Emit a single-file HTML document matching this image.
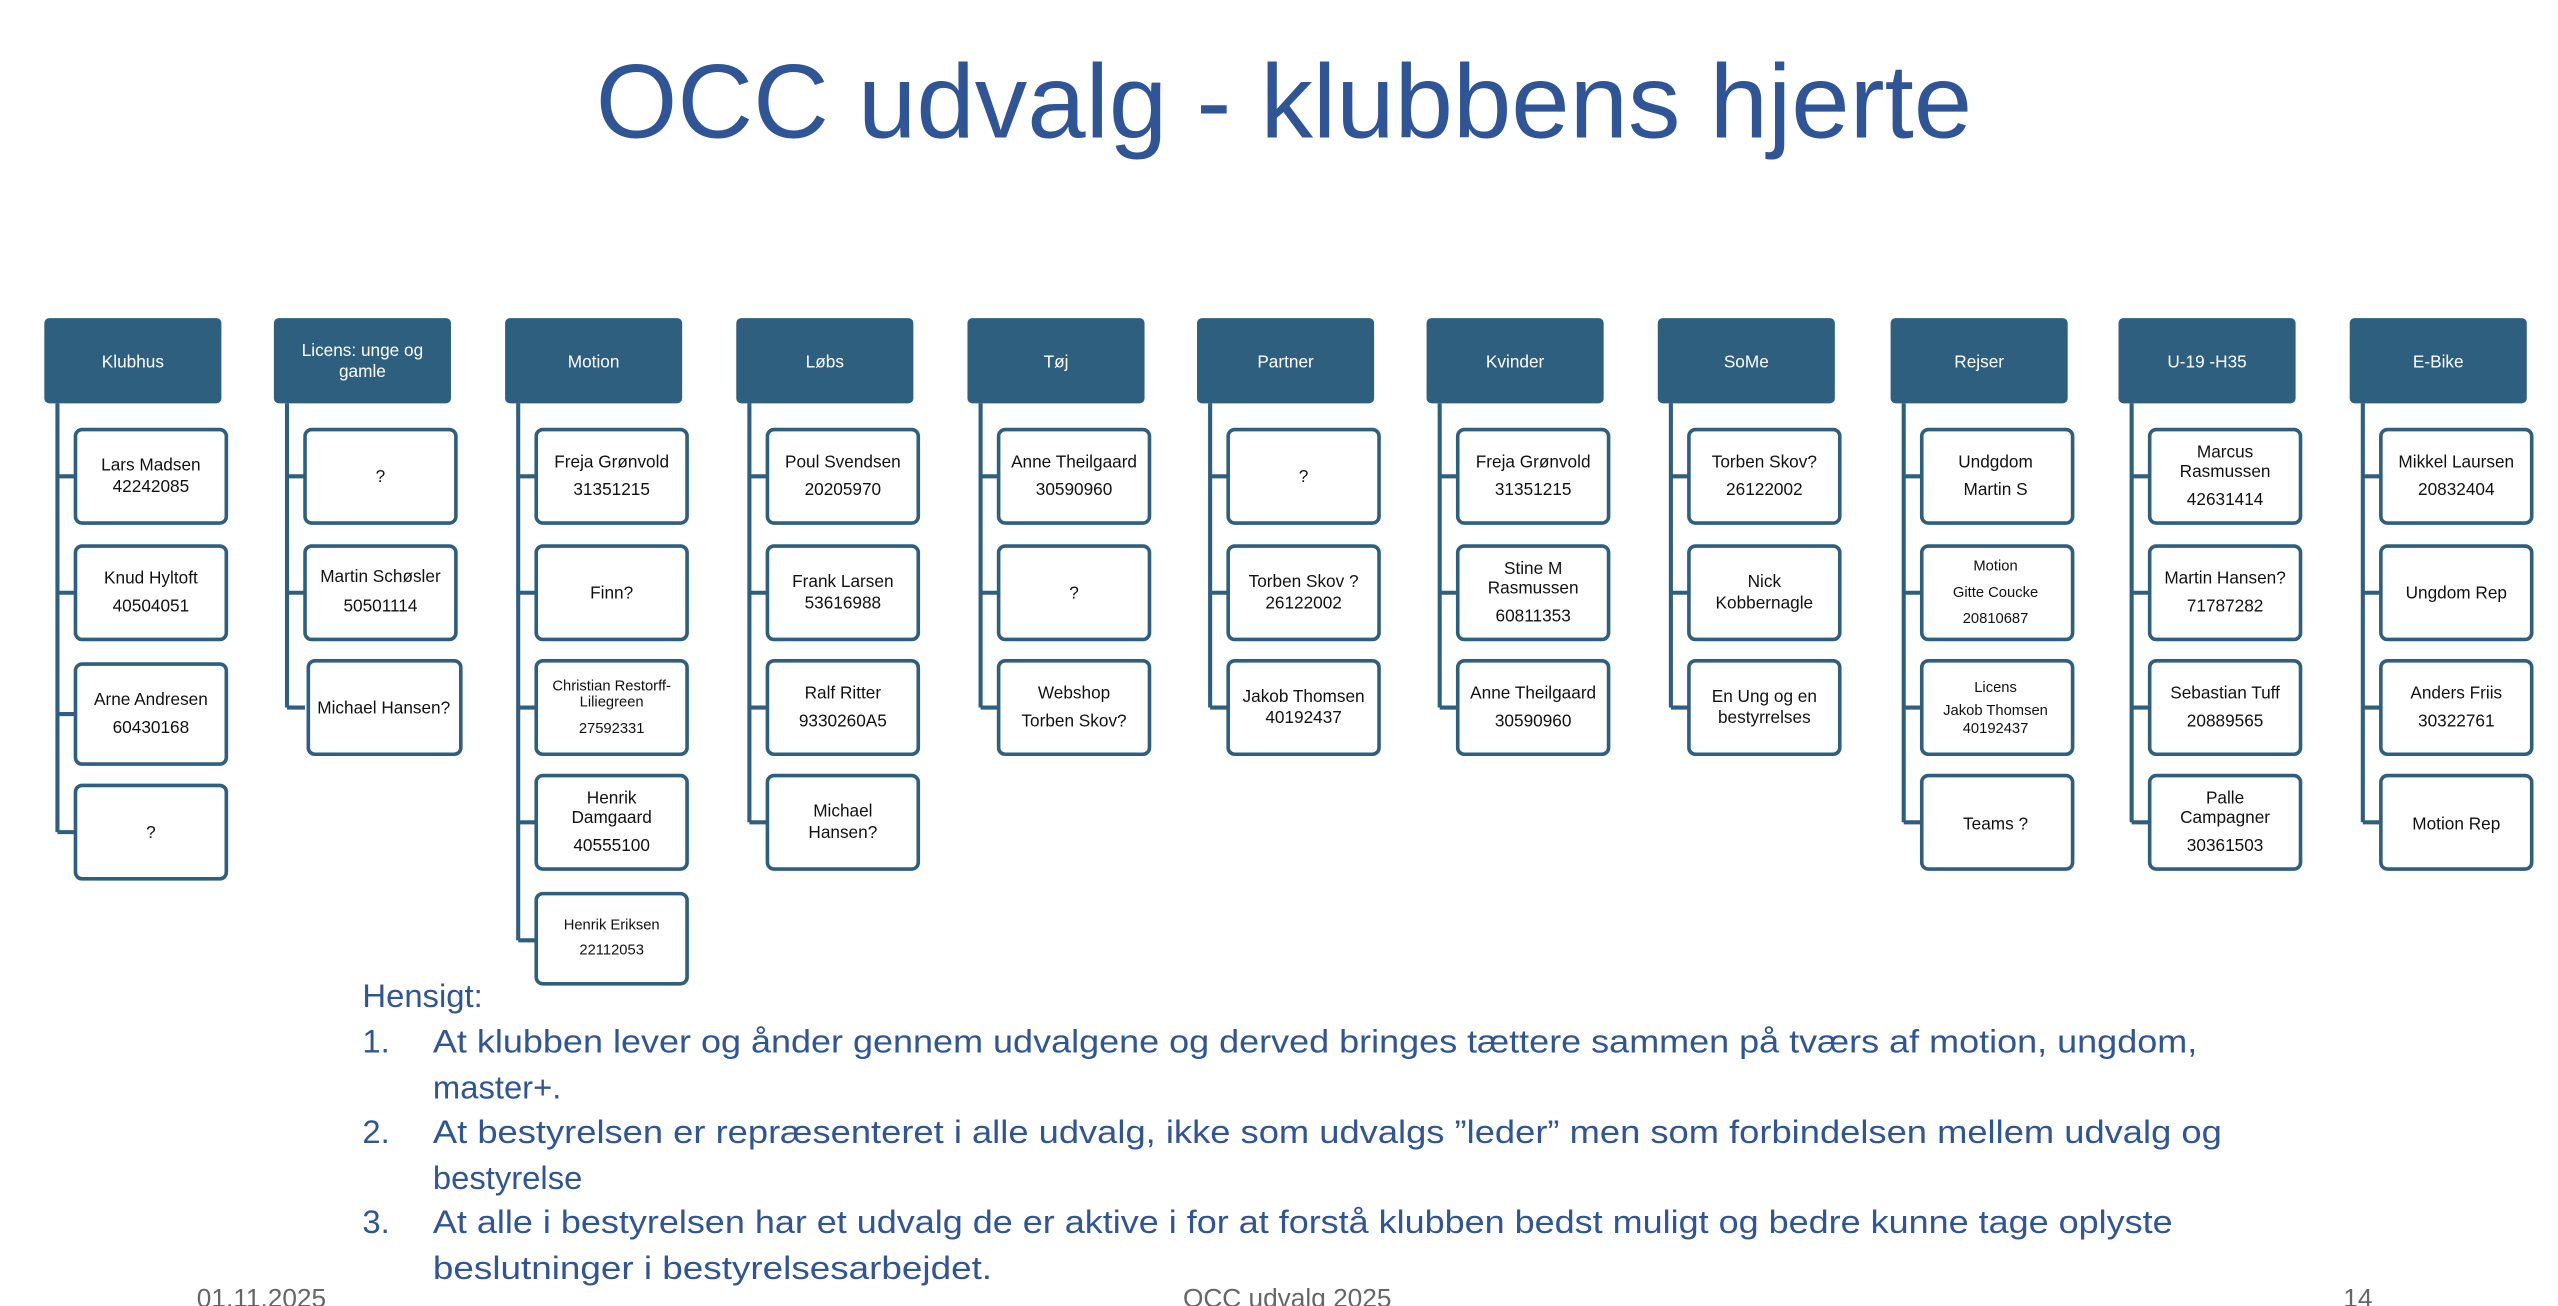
<!DOCTYPE html>
<html><head><meta charset="utf-8"><style>
html,body{margin:0;padding:0;background:#fff;}
svg{display:block;}
text{font-family:"Liberation Sans",Arial,sans-serif;}
.h{fill:#2E5F7F;}
.b{fill:#fff;stroke:#2E5F7F;stroke-width:2.2;}
.l{stroke:#2E5F7F;stroke-width:2.5;fill:none;}
.ht{fill:#fff;font-size:10.5px;text-anchor:middle;}
.t{fill:#111;font-size:10.5px;text-anchor:middle;}
.s{fill:#111;font-size:9px;text-anchor:middle;}
.p{fill:#2F5597;font-size:20px;}
.f{fill:#666;font-size:16px;}
</style></head><body>
<svg width="2558" height="1306" viewBox="0 0 1560 796.5" xmlns="http://www.w3.org/2000/svg">
<text x="783" y="84" text-anchor="middle" style="fill:#2F5597;font-size:64px;">OCC udvalg - klubbens hjerte</text>

<!-- headers -->
<g>
<rect class="h" x="27" y="194" width="108" height="52" rx="3"/><text class="ht" x="81" y="224">Klubhus</text>
<rect class="h" x="167" y="194" width="108" height="52" rx="3"/><text class="ht" x="221" y="217">Licens: unge og</text><text class="ht" x="221" y="230">gamle</text>
<rect class="h" x="308" y="194" width="108" height="52" rx="3"/><text class="ht" x="362" y="224">Motion</text>
<rect class="h" x="449" y="194" width="108" height="52" rx="3"/><text class="ht" x="503" y="224">Løbs</text>
<rect class="h" x="590" y="194" width="108" height="52" rx="3"/><text class="ht" x="644" y="224">Tøj</text>
<rect class="h" x="730" y="194" width="108" height="52" rx="3"/><text class="ht" x="784" y="224">Partner</text>
<rect class="h" x="870" y="194" width="108" height="52" rx="3"/><text class="ht" x="924" y="224">Kvinder</text>
<rect class="h" x="1011" y="194" width="108" height="52" rx="3"/><text class="ht" x="1065" y="224">SoMe</text>
<rect class="h" x="1153" y="194" width="108" height="52" rx="3"/><text class="ht" x="1207" y="224">Rejser</text>
<rect class="h" x="1292" y="194" width="108" height="52" rx="3"/><text class="ht" x="1346" y="224">U-19 -H35</text>
<rect class="h" x="1433" y="194" width="108" height="52" rx="3"/><text class="ht" x="1487" y="224">E-Bike</text>
</g>

<!-- connectors -->
<g class="l">
<path d="M35 246V507.5M35 290.5H46M35 361.5H46M35 435.5H46M35 507.5H46"/>
<path d="M175 246V431.5M175 290.5H186M175 361.5H186M175 431.5H186"/>
<path d="M316 246V573.5M316 290.5H327M316 361.5H327M316 431.5H327M316 501.5H327M316 573.5H327"/>
<path d="M457 246V501.5M457 290.5H468M457 361.5H468M457 431.5H468M457 501.5H468"/>
<path d="M598 246V431.5M598 290.5H609M598 361.5H609M598 431.5H609"/>
<path d="M738 246V431.5M738 290.5H749M738 361.5H749M738 431.5H749"/>
<path d="M878 246V431.5M878 290.5H889M878 361.5H889M878 431.5H889"/>
<path d="M1019 246V431.5M1019 290.5H1030M1019 361.5H1030M1019 431.5H1030"/>
<path d="M1161 246V501.5M1161 290.5H1172M1161 361.5H1172M1161 431.5H1172M1161 501.5H1172"/>
<path d="M1300 246V501.5M1300 290.5H1311M1300 361.5H1311M1300 431.5H1311M1300 501.5H1311"/>
<path d="M1441 246V501.5M1441 290.5H1452M1441 361.5H1452M1441 431.5H1452M1441 501.5H1452"/>
</g>

<!-- Klubhus -->
<rect class="b" x="46" y="262" width="92" height="57" rx="4"/><text class="t" x="92" y="287">Lars Madsen</text><text class="t" x="92" y="300">42242085</text>
<rect class="b" x="46" y="333" width="92" height="57" rx="4"/><text class="t" x="92" y="356">Knud Hyltoft</text><text class="t" x="92" y="373">40504051</text>
<rect class="b" x="46" y="405" width="92" height="61" rx="4"/><text class="t" x="92" y="430">Arne Andresen</text><text class="t" x="92" y="447">60430168</text>
<rect class="b" x="46" y="479" width="92" height="57" rx="4"/><text class="t" x="92" y="511">?</text>

<!-- Licens -->
<rect class="b" x="186" y="262" width="92" height="57" rx="4"/><text class="t" x="232" y="294">?</text>
<rect class="b" x="186" y="333" width="92" height="57" rx="4"/><text class="t" x="232" y="355">Martin Schøsler</text><text class="t" x="232" y="373">50501114</text>
<rect class="b" x="188" y="403" width="93" height="57" rx="4"/><text class="t" x="234" y="435">Michael Hansen?</text>

<!-- Motion -->
<rect class="b" x="327" y="262" width="92" height="57" rx="4"/><text class="t" x="373" y="285">Freja Grønvold</text><text class="t" x="373" y="302">31351215</text>
<rect class="b" x="327" y="333" width="92" height="57" rx="4"/><text class="t" x="373" y="365">Finn?</text>
<rect class="b" x="327" y="403" width="92" height="57" rx="4"/><text class="s" x="373" y="421">Christian Restorff-</text><text class="s" x="373" y="431">Liliegreen</text><text class="s" x="373" y="447">27592331</text>
<rect class="b" x="327" y="473" width="92" height="57" rx="4"/><text class="t" x="373" y="490">Henrik</text><text class="t" x="373" y="502">Damgaard</text><text class="t" x="373" y="519">40555100</text>
<rect class="b" x="327" y="545" width="92" height="55" rx="4"/><text class="s" x="373" y="567">Henrik Eriksen</text><text class="s" x="373" y="582">22112053</text>

<!-- Løbs -->
<rect class="b" x="468" y="262" width="92" height="57" rx="4"/><text class="t" x="514" y="285">Poul Svendsen</text><text class="t" x="514" y="302">20205970</text>
<rect class="b" x="468" y="333" width="92" height="57" rx="4"/><text class="t" x="514" y="358">Frank Larsen</text><text class="t" x="514" y="371">53616988</text>
<rect class="b" x="468" y="403" width="92" height="57" rx="4"/><text class="t" x="514" y="426">Ralf Ritter</text><text class="t" x="514" y="443">9330260A5</text>
<rect class="b" x="468" y="473" width="92" height="57" rx="4"/><text class="t" x="514" y="498">Michael</text><text class="t" x="514" y="511">Hansen?</text>

<!-- Tøj -->
<rect class="b" x="609" y="262" width="92" height="57" rx="4"/><text class="t" x="655" y="285">Anne Theilgaard</text><text class="t" x="655" y="302">30590960</text>
<rect class="b" x="609" y="333" width="92" height="57" rx="4"/><text class="t" x="655" y="365">?</text>
<rect class="b" x="609" y="403" width="92" height="57" rx="4"/><text class="t" x="655" y="426">Webshop</text><text class="t" x="655" y="443">Torben Skov?</text>

<!-- Partner -->
<rect class="b" x="749" y="262" width="92" height="57" rx="4"/><text class="t" x="795" y="294">?</text>
<rect class="b" x="749" y="333" width="92" height="57" rx="4"/><text class="t" x="795" y="358">Torben Skov ?</text><text class="t" x="795" y="371">26122002</text>
<rect class="b" x="749" y="403" width="92" height="57" rx="4"/><text class="t" x="795" y="428">Jakob Thomsen</text><text class="t" x="795" y="441">40192437</text>

<!-- Kvinder -->
<rect class="b" x="889" y="262" width="92" height="57" rx="4"/><text class="t" x="935" y="285">Freja Grønvold</text><text class="t" x="935" y="302">31351215</text>
<rect class="b" x="889" y="333" width="92" height="57" rx="4"/><text class="t" x="935" y="350">Stine M</text><text class="t" x="935" y="362">Rasmussen</text><text class="t" x="935" y="379">60811353</text>
<rect class="b" x="889" y="403" width="92" height="57" rx="4"/><text class="t" x="935" y="426">Anne Theilgaard</text><text class="t" x="935" y="443">30590960</text>

<!-- SoMe -->
<rect class="b" x="1030" y="262" width="92" height="57" rx="4"/><text class="t" x="1076" y="285">Torben Skov?</text><text class="t" x="1076" y="302">26122002</text>
<rect class="b" x="1030" y="333" width="92" height="57" rx="4"/><text class="t" x="1076" y="358">Nick</text><text class="t" x="1076" y="371">Kobbernagle</text>
<rect class="b" x="1030" y="403" width="92" height="57" rx="4"/><text class="t" x="1076" y="428">En Ung og en</text><text class="t" x="1076" y="441">bestyrrelses</text>

<!-- Rejser -->
<rect class="b" x="1172" y="262" width="92" height="57" rx="4"/><text class="t" x="1217" y="285">Undgdom</text><text class="t" x="1217" y="302">Martin S</text>
<rect class="b" x="1172" y="333" width="92" height="57" rx="4"/><text class="s" x="1217" y="348">Motion</text><text class="s" x="1217" y="364">Gitte Coucke</text><text class="s" x="1217" y="380">20810687</text>
<rect class="b" x="1172" y="403" width="92" height="57" rx="4"/><text class="s" x="1217" y="422">Licens</text><text class="s" x="1217" y="436">Jakob Thomsen</text><text class="s" x="1217" y="447">40192437</text>
<rect class="b" x="1172" y="473" width="92" height="57" rx="4"/><text class="t" x="1217" y="506">Teams ?</text>

<!-- U-19 -->
<rect class="b" x="1311" y="262" width="92" height="57" rx="4"/><text class="t" x="1357" y="279">Marcus</text><text class="t" x="1357" y="291">Rasmussen</text><text class="t" x="1357" y="308">42631414</text>
<rect class="b" x="1311" y="333" width="92" height="57" rx="4"/><text class="t" x="1357" y="356">Martin  Hansen?</text><text class="t" x="1357" y="373">71787282</text>
<rect class="b" x="1311" y="403" width="92" height="57" rx="4"/><text class="t" x="1357" y="426">Sebastian Tuff</text><text class="t" x="1357" y="443">20889565</text>
<rect class="b" x="1311" y="473" width="92" height="57" rx="4"/><text class="t" x="1357" y="490">Palle</text><text class="t" x="1357" y="502">Campagner</text><text class="t" x="1357" y="519">30361503</text>

<!-- E-Bike -->
<rect class="b" x="1452" y="262" width="92" height="57" rx="4"/><text class="t" x="1498" y="285">Mikkel Laursen</text><text class="t" x="1498" y="302">20832404</text>
<rect class="b" x="1452" y="333" width="92" height="57" rx="4"/><text class="t" x="1498" y="365">Ungdom Rep</text>
<rect class="b" x="1452" y="403" width="92" height="57" rx="4"/><text class="t" x="1498" y="426">Anders Friis</text><text class="t" x="1498" y="443">30322761</text>
<rect class="b" x="1452" y="473" width="92" height="57" rx="4"/><text class="t" x="1498" y="506">Motion Rep</text>

<!-- body text -->
<text class="p" x="221" y="614">Hensigt:</text>
<text class="p" x="221" y="642">1.</text><text class="p" x="264" y="642" textLength="1076" lengthAdjust="spacingAndGlyphs">At klubben lever og ånder gennem udvalgene og derved bringes tættere sammen på tværs af motion, ungdom,</text>
<text class="p" x="264" y="670">master+.</text>
<text class="p" x="221" y="697">2.</text><text class="p" x="264" y="697" textLength="1091" lengthAdjust="spacingAndGlyphs">At bestyrelsen er repræsenteret i alle udvalg, ikke som udvalgs ”leder” men som forbindelsen mellem udvalg og</text>
<text class="p" x="264" y="725">bestyrelse</text>
<text class="p" x="221" y="752">3.</text><text class="p" x="264" y="752" textLength="1061" lengthAdjust="spacingAndGlyphs">At alle i bestyrelsen har et udvalg de er aktive i for at forstå klubben bedst muligt og bedre kunne tage oplyste</text>
<text class="p" x="264" y="780" textLength="341" lengthAdjust="spacingAndGlyphs">beslutninger i bestyrelsesarbejdet.</text>

<!-- footer -->
<text class="f" x="120" y="797">01.11.2025</text>
<text class="f" x="785" y="797" text-anchor="middle">OCC udvalg 2025</text>
<text class="f" x="1438" y="797" text-anchor="middle">14</text>
</svg>
</body></html>
